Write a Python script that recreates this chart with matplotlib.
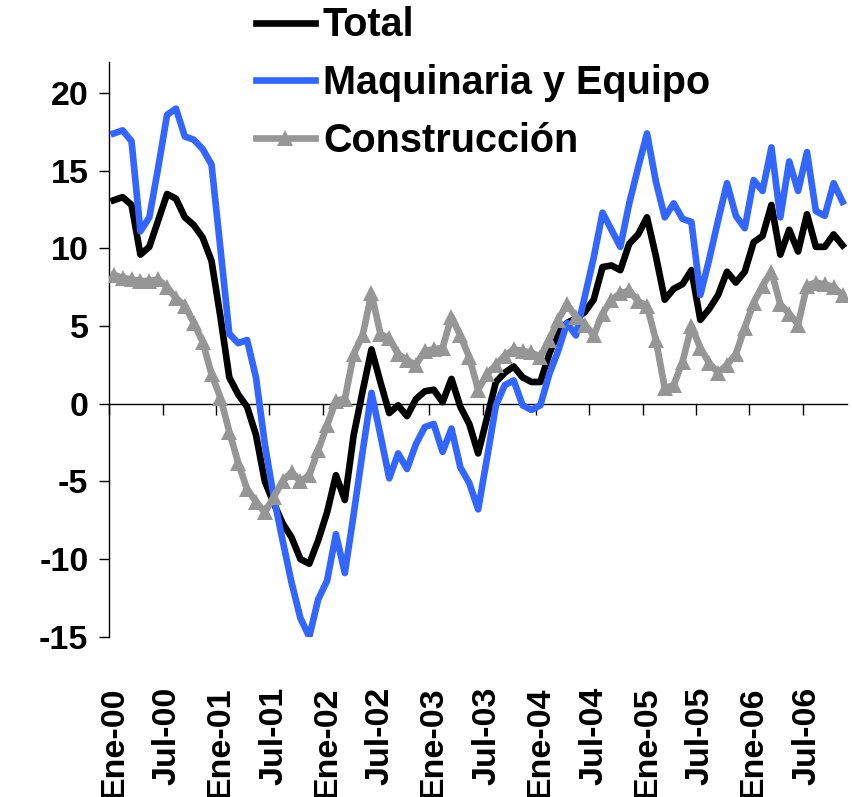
#!/usr/bin/env python3
# -*- coding: utf-8 -*-

import numpy as np
import matplotlib
matplotlib.use("Agg")
import matplotlib.pyplot as plt

# monthly series, Ene-00 .. Nov-06
total = [13.1, 13.3, 12.8, 9.6, 10.1, 11.8, 13.5, 13.2, 12.0, 11.5,
         10.7, 9.2, 5.6, 1.7, 0.6, -0.2, -2.0, -5.0, -6.4, -7.7,
         -8.6, -10.0, -10.3, -8.8, -7.0, -4.6, -6.2, -2.0, 0.8, 3.5,
         1.4, -0.6, -0.1, -0.8, 0.3, 0.8, 0.9, 0.1, 1.6, -0.2,
         -1.3, -3.2, -0.9, 1.4, 2.0, 2.4, 1.7, 1.4, 1.4, 3.2,
         4.6, 5.2, 5.5, 5.9, 6.7, 8.8, 8.9, 8.6, 10.3, 10.9,
         12.0, 9.5, 6.7, 7.4, 7.7, 8.6, 5.4, 6.1, 7.0, 8.5,
         7.8, 8.5, 10.4, 10.8, 12.8, 9.6, 11.2, 9.8, 12.2, 10.1,
         10.1, 10.9, 10.2]

maquinaria = [17.4, 17.6, 16.9, 11.1, 12.0, 15.2, 18.6, 19.0, 17.2, 17.0,
              16.4, 15.4, 10.0, 4.5, 3.9, 4.1, 1.7, -2.6, -6.0, -8.8,
              -11.5, -13.8, -15.0, -12.6, -11.4, -8.4, -10.9, -7.1, -3.1, 0.7,
              -2.0, -4.8, -3.2, -4.2, -2.6, -1.5, -1.3, -3.1, -1.6, -4.1,
              -5.1, -6.8, -3.5, -0.1, 1.2, 1.5, -0.1, -0.4, -0.1, 1.9,
              3.4, 5.2, 4.4, 6.9, 9.4, 12.3, 11.2, 10.1, 12.9, 15.2,
              17.4, 14.3, 12.0, 12.9, 11.9, 11.7, 7.0, 9.3, 11.8, 14.2,
              12.1, 11.3, 14.4, 13.7, 16.5, 12.0, 15.6, 13.7, 16.2, 12.4,
              12.1, 14.2, 13.0]

construccion = [8.3, 8.1, 8.0, 7.9, 7.9, 8.0, 7.5, 6.8, 6.3, 5.2,
                4.0, 1.9, 0.4, -1.8, -3.8, -5.5, -6.3, -7.0, -6.0, -5.0,
                -4.4, -5.0, -4.6, -3.0, -1.4, 0.2, 0.3, 3.2, 4.4, 7.1,
                4.5, 4.2, 3.2, 2.8, 2.5, 3.4, 3.5, 3.6, 5.6, 4.4,
                3.0, 0.9, 1.9, 2.5, 3.1, 3.5, 3.4, 3.3, 3.0, 4.1,
                5.4, 6.4, 5.6, 5.1, 4.4, 5.8, 6.7, 7.1, 7.3, 6.6,
                6.3, 4.1, 1.0, 1.2, 2.7, 5.0, 3.6, 2.6, 2.0, 2.5,
                3.2, 4.9, 6.5, 7.6, 8.5, 6.4, 5.8, 5.1, 7.6, 7.8,
                7.7, 7.5, 7.0]

month_labels = ["Ene-00", "Jul-00", "Ene-01", "Jul-01", "Ene-02", "Jul-02",
                "Ene-03", "Jul-03", "Ene-04", "Jul-04", "Ene-05", "Jul-05",
                "Ene-06", "Jul-06"]

series_names = ["Total", "Maquinaria y Equipo", "Construcción"]


def main():
    plt.rcParams['font.family'] = ['Liberation Sans', 'DejaVu Sans']
    plt.rcParams['font.weight'] = 'bold'
    plt.rcParams['axes.unicode_minus'] = False

    n = len(total)
    x = np.arange(n)
    label_pos = np.arange(len(month_labels)) * 6
    boundaries = label_pos - 0.5

    fig = plt.figure(figsize=(8.52, 7.97), dpi=100)
    ax = fig.add_axes([0.1283, 0.2011, 0.8658, 0.7211])

    l1, = ax.plot(x, total, color='black', lw=4.8, zorder=3)
    l2, = ax.plot(x, maquinaria, color='#3366FF', lw=4.8, zorder=3)
    l3, = ax.plot(x, construccion, color='#969696', lw=4.8, marker='^',
                  markersize=12, markeredgewidth=0, zorder=3)

    ax.set_xlim(-0.5, n - 0.5)
    ax.set_ylim(-15, 22)

    for s in ['top', 'right']:
        ax.spines[s].set_visible(False)
    ax.spines['bottom'].set_position(('data', 0))
    ax.spines['bottom'].set_linewidth(1.0)
    ax.spines['left'].set_linewidth(1.0)

    ax.set_xticks(boundaries)
    ax.tick_params(axis='x', labelbottom=False, direction='out',
                   length=8, width=1.0)
    ax.set_yticks(range(-15, 21, 5))
    ax.tick_params(axis='y', direction='out', length=7, width=1.0,
                   pad=8, labelsize=24.5)

    sec = ax.secondary_xaxis('bottom')
    sec.set_xticks(label_pos, labels=month_labels, rotation=90,
                   fontsize=24.5, fontweight='bold')
    sec.tick_params(length=0, pad=36)
    sec.spines['bottom'].set_visible(False)

    fig.legend([l1, l2, l3], series_names, loc='upper left',
               bbox_to_anchor=(0.300, 0.992), frameon=False,
               prop={'size': 28.5, 'weight': 'bold'}, handlelength=1.5,
               handletextpad=0.2, labelspacing=0.5, borderpad=0,
               borderaxespad=0)

    fig.savefig("out.png", dpi=100)


if __name__ == "__main__":
    main()
